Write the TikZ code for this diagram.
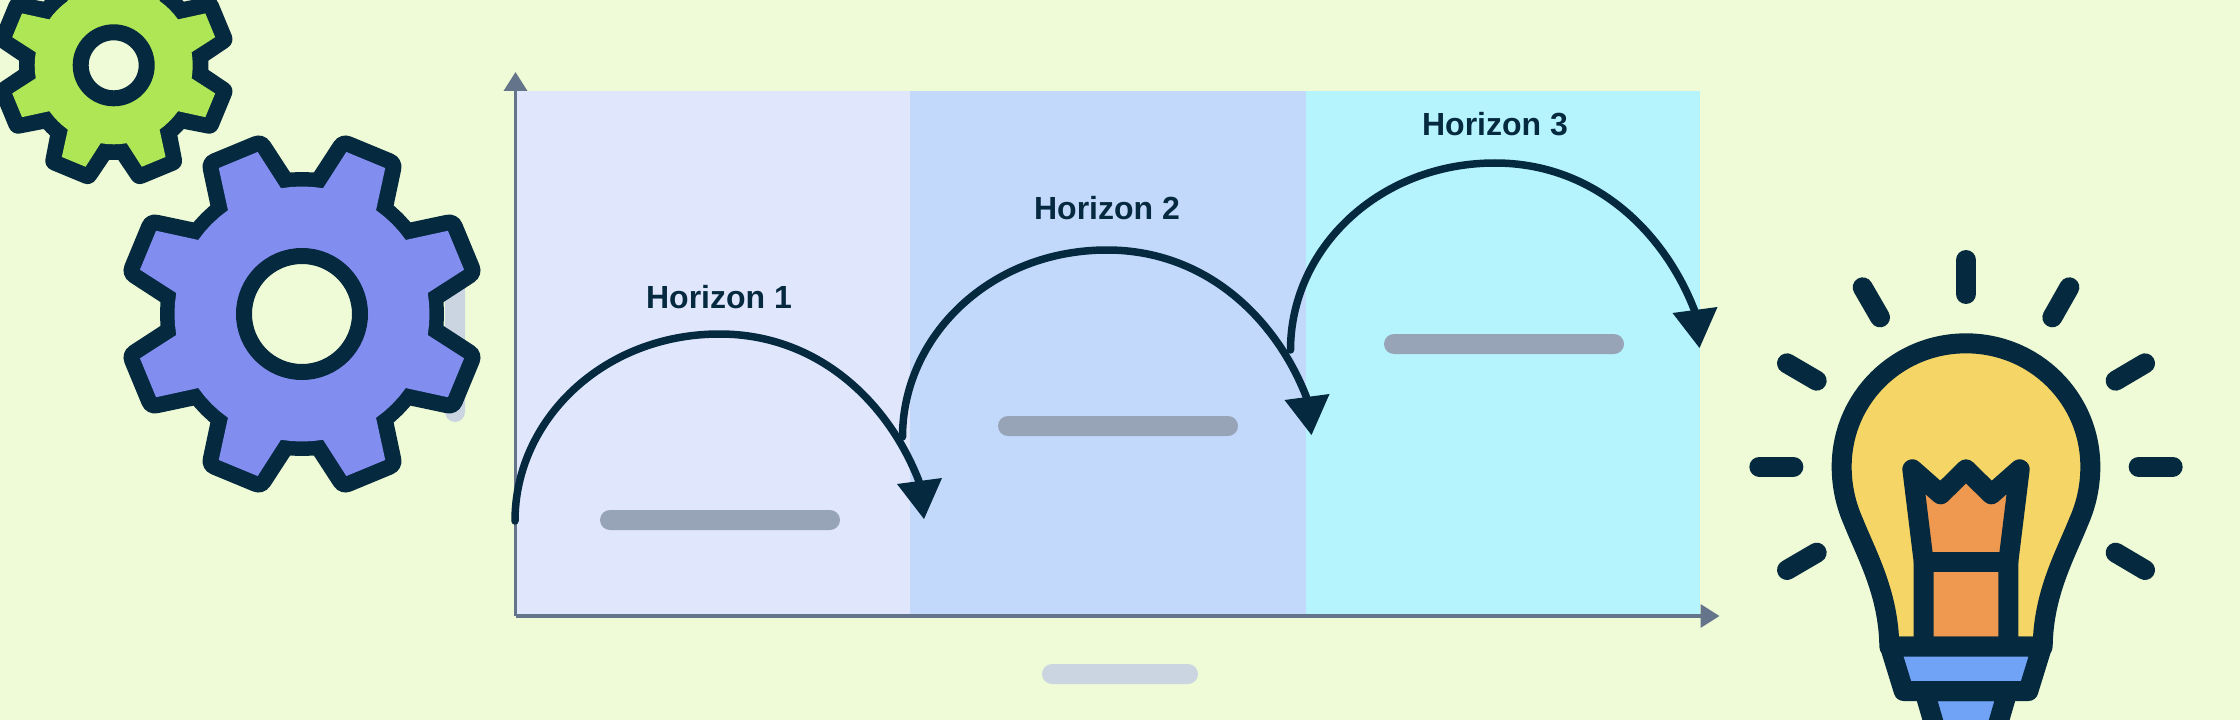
\documentclass[tikz,border=0pt]{standalone}
\usepackage{fontspec}
\setmainfont{Liberation Sans}
\usetikzlibrary{arrows.meta}
\definecolor{paper}{HTML}{EFFBD6}
\definecolor{ink}{HTML}{05293F}
\definecolor{zoneA}{HTML}{E0E7FD}
\definecolor{zoneB}{HTML}{C2D9FB}
\definecolor{zoneC}{HTML}{B5F3FD}
\definecolor{axisgrey}{HTML}{64748B}
\definecolor{barslate}{HTML}{97A3B7}
\definecolor{barpale}{HTML}{CBD5E1}
\definecolor{gearblue}{HTML}{828DF0}
\definecolor{gearlime}{HTML}{AFE655}
\definecolor{bulbyellow}{HTML}{F5D565}
\definecolor{bulborange}{HTML}{EE994F}
\definecolor{bulbblue}{HTML}{70A3F5}
\tikzset{
  placeholder/.style={draw=none,fill=barslate,rounded corners=10pt,inner sep=0pt,minimum width=240pt,minimum height=20pt},
  palebar/.style={fill=barpale,rounded corners=10pt},
  axisline/.style={draw=axisgrey,line width=3.6pt,-{Triangle[length=19pt,width=23pt]}},
  leap/.style={draw=ink,line width=7.5pt,line cap=round},
  leaphead/.style={fill=ink,draw=none},
  horizon/.style={text=ink,inner sep=0pt,font=\fontsize{32}{36}\selectfont\bfseries},
  gearrim/.style={draw=ink,fill=ink,line join=round},
  gearline/.style={draw=ink,line width=16pt},
  bulbline/.style={draw=ink,line width=20pt,line join=round,line cap=round},
  ray/.style={draw=ink,line width=20pt,line cap=round},
}
% Eight-toothed outline: root radius, root half angle, tip radius, tip half angle
\newcommand{\cogoutline}[4]{%
  ({22.5-#2}:#1)
  foreach \k in {0,...,7}{
    -- ({22.5+45*\k-#2}:#1) -- ({22.5+45*\k-#4}:#3) -- ({22.5+45*\k+#4}:#3) -- ({22.5+45*\k+#2}:#1)
    -- ({22.5+45*\k+#2+(45-2*#2)/4}:#1) -- ({22.5+45*\k+#2+(45-2*#2)/2}:#1) -- ({22.5+45*\k+#2+3*(45-2*#2)/4}:#1)
  } -- cycle}
% One hop of the timeline: offset x, offset y
\newcommand{\hop}[2]{%
  \begin{scope}[shift={(#1,#2)}]
    \draw[leap] (515,521) .. controls (515,420) and (603,334) .. (719.5,334)
                          .. controls (819.5,334) and (890,404) .. (920,484);
    \fill[leaphead] (897,484) -- (942,478) -- (924,519) -- cycle;
  \end{scope}}
\begin{document}
\begin{tikzpicture}[x=1pt,y=-1pt]
  \path[use as bounding box,clip] (0,0) rectangle (2240,719.6);
  \fill[paper] (0,0) rectangle (2240,720);

  % Three horizon bands
  \fill[zoneA] (515,91.5) rectangle (909.5,616);
  \fill[zoneB] (909.5,91.5) rectangle (1306,616);
  \fill[zoneC] (1306,91.5) rectangle (1700,616);

  % Axes
  \coordinate (origin) at (515.5,616);
  \coordinate (ytip) at (515.5,72);
  \coordinate (xtip) at (1719.5,616);
  \draw[axisline] (origin) -- (ytip);
  \draw[axisline] (origin) -- (xtip);

  % Pale bars
  \fill[palebar] (1042,664) rectangle (1198,684);
  \fill[palebar] (445,270) rectangle (465,422);

  % Slate bars
  \node[placeholder] (barA) at (720,520) {};
  \node[placeholder] (barB) at (1118,426) {};
  \node[placeholder] (barC) at (1504,344) {};

  % Hops between horizons
  \hop{0}{0}
  \hop{387.5}{-84}
  \hop{775.5}{-171}

  \node[horizon] (labelA) at (719,297) {Horizon 1};
  \node[horizon] (labelB) at (1107,208) {Horizon 2};
  \node[horizon] (labelC) at (1495,124) {Horizon 3};

  % Small gear
  \begin{scope}[shift={(113.7,65.3)}]
    \draw[gearrim,line width=20pt] \cogoutline{84.7}{16}{111.9}{8.95};
    \fill[gearlime] \cogoutline{79}{13}{105.3}{7};
    \draw[gearline,fill=paper] (0,0) circle[radius=33pt];
  \end{scope}

  % Large gear
  \begin{scope}[shift={(302,314)}]
    \draw[gearrim,line width=28pt] \cogoutline{128}{14}{170.2}{7.66};
    \fill[gearblue] \cogoutline{127.5}{13}{168}{7.2};
    \draw[gearline,fill=paper] (0,0) circle[radius=58pt];
  \end{scope}

  % Light bulb
  \begin{scope}[shift={(1720,230)},x=0.33333pt,y=-0.33333pt]
    \draw[bulbline,fill=bulbyellow] (508,1250)
      .. controls (506,1090) and (440,975) .. (400,875)
      .. controls (380,830) and (365,775) .. (365,710)
      .. controls (365,504) and (532,340) .. (738,340)
      .. controls (944,340) and (1111,504) .. (1111,710)
      .. controls (1111,775) and (1096,830) .. (1076,875)
      .. controls (1036,975) and (970,1090) .. (968,1250) -- cycle;
    \draw[bulbline,fill=bulborange] (611,1250) -- (611,995) -- (577,718) -- (662,793) -- (738,718)
      -- (814,793) -- (899,718) -- (865,995) -- (865,1250) -- cycle;
    \draw[bulbline] (611,995) -- (865,995);
    \draw[bulbline,fill=bulbblue] (613,1383) -- (650,1510) -- (826,1510) -- (863,1383) -- cycle;
    \draw[bulbline,fill=bulbblue] (510,1250) -- (966,1250) -- (925,1383) -- (551,1383) -- cycle;
    \draw[ray] (118,710) -- (220,710);
    \draw[ray] (1256,710) -- (1358,710);
    \draw[ray] (738,90) -- (738,192);
    \draw[ray] (428,172) -- (480,262);
    \draw[ray] (1048,172) -- (997,262);
    \draw[ray] (201,400) -- (290,452);
    \draw[ray] (1275,400) -- (1187,452);
    \draw[ray] (290,968) -- (201,1020);
    \draw[ray] (1187,968) -- (1275,1020);
  \end{scope}
\end{tikzpicture}
\end{document}
